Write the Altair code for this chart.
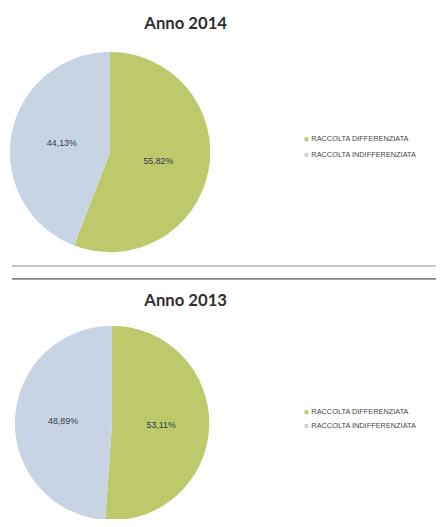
import altair as alt
import pandas as pd

categories = ["RACCOLTA DIFFERENZIATA", "RACCOLTA INDIFFERENZIATA"]
years = ["Anno 2014", "Anno 2013"]
values_2014 = [55.82, 44.13]
values_2013 = [51.11, 48.89]
labels_2014 = ["55,82%", "44,13%"]
labels_2013 = ["53,11%", "48,89%"]
colors = ["#bdc96a", "#c8d4e3"]

rows = []
for year, vals, labs in [(years[0], values_2014, labels_2014), (years[1], values_2013, labels_2013)]:
    for i, (c, v, l) in enumerate(zip(categories, vals, labs)):
        rows.append({"year": year, "cat": c, "value": v, "label": l, "ord": i})
df = pd.DataFrame(rows)

title_df = pd.DataFrame({"year": years})
legend_df = pd.DataFrame([{"year": y, "cat": c, "ord": i} for y in years for i, c in enumerate(categories)])

color_scale = alt.Scale(domain=categories, range=colors)

# layout per year (chart coordinates)
layout = {
    "Anno 2014": dict(cx=104, cy=142, r=102, ty=17, lx=304, ly=[129, 145]),
    "Anno 2013": dict(cx=106, cy=418, r=99, ty=299, lx=304, ly=[407, 421]),
}

layers = []
for y in years:
    L = layout[y]
    base = alt.Chart(df).transform_filter(alt.datum.year == y)
    arc = base.mark_arc(radius=L["r"]).encode(
        theta=alt.Theta("value:Q", stack="normalize"),
        color=alt.Color("cat:N", scale=color_scale, legend=None),
        order=alt.Order("ord:Q"),
        x=alt.value(L["cx"]),
        y=alt.value(L["cy"]),
    )
    txt = base.mark_text(radius=50, fontSize=9, font="Liberation Sans", color="#363c4c").encode(
        theta=alt.Theta("value:Q", stack="normalize"),
        order=alt.Order("ord:Q"),
        text="label:N",
        x=alt.value(L["cx"]),
        y=alt.value(L["cy"]),
    )
    title = alt.Chart(title_df).transform_filter(alt.datum.year == y).mark_text(
        font="Lato", fontWeight="bold", fontSize=17, color="#2f2f2f", baseline="alphabetic"
    ).encode(text="year:N", x=alt.value(181), y=alt.value(L["ty"]))
    layers += [arc, txt, title]
    for i, c in enumerate(categories):
        lbase = alt.Chart(legend_df).transform_filter((alt.datum.year == y) & (alt.datum.ord == i))
        sq = lbase.mark_square(size=16, opacity=1).encode(
            color=alt.Color("cat:N", scale=color_scale, legend=None),
            x=alt.value(L["lx"]), y=alt.value(L["ly"][i]),
        )
        lt = lbase.mark_text(align="left", baseline="middle", fontSize=7.5, font="Liberation Sans", color="#454545").encode(
            text="cat:N", x=alt.value(L["lx"] + 5), y=alt.value(L["ly"][i]),
        )
        layers += [sq, lt]

sep1 = alt.Chart(title_df).mark_rule(color="#b5b5b5", strokeWidth=1).encode(
    x=alt.value(4), x2=alt.value(436), y=alt.value(258))
sep2 = alt.Chart(title_df).mark_rule(color="#858585", strokeWidth=1.5).encode(
    x=alt.value(4), x2=alt.value(436), y=alt.value(271))
layers += [sep1, sep2]

chart = alt.layer(*layers).properties(
    width=436, height=511, padding=0,
    autosize=alt.AutoSizeParams(type="none"),
).configure_view(stroke=None)

chart.save("out.html", embed_options={"renderer": "svg", "actions": False})
